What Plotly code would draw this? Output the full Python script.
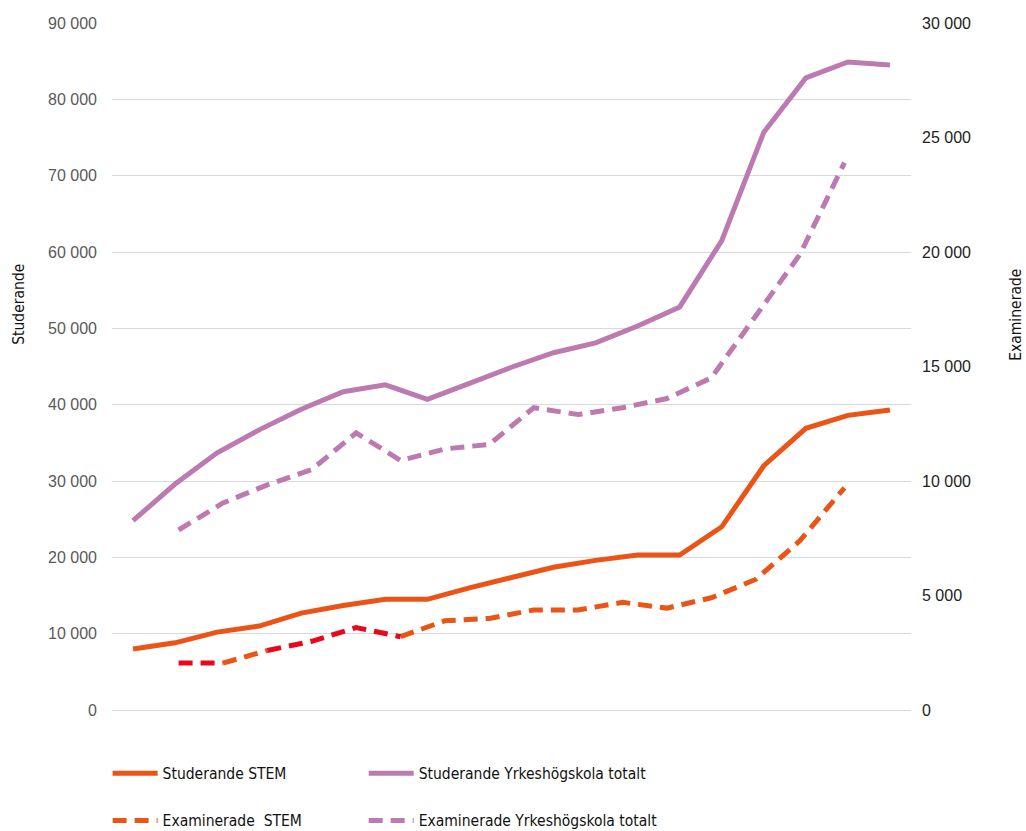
import plotly.graph_objects as go

# Category slots (no visible labels on the x axes)
stud_pos = list(range(19))          # Studerande: 19 slots on the primary x axis
exam_pos = list(range(1, 17))       # Examinerade: slots 1..16 of an 18-slot secondary x axis

# Studerande (left axis)
stud_stem = [8000, 8800, 10200, 11000, 12700, 13700, 14500, 14500, 16000, 17400,
             18700, 19600, 20300, 20300, 24000, 32000, 36900, 38600, 39300]
stud_yh = [24800, 29600, 33700, 36700, 39400, 41700, 42600, 40700, 42800, 44900,
           46800, 48100, 50300, 52800, 61500, 75700, 82800, 84900, 84500]

# Examinerade (right axis)
exam_stem = [2050, 2050, 2600, 3000, 3600, 3200, 3900, 4000, 4370, 4370,
             4700, 4450, 4900, 5700, 7400, 9700]
exam_yh = [7860, 9040, 9830, 10500, 12100, 10900, 11400, 11600, 13200, 12900,
           13200, 13600, 14500, 17200, 19900, 23900]

# Index spans of the Examinerade STEM line drawn in red vs orange
stem_red_spans = [(0, 1), (2, 5)]
stem_orange_spans = [(1, 2), (5, 15)]

ORANGE = "#eb5417"
RED = "#e8081c"
PURPLE = "#bc7ab1"
NARROW = "Liberation Sans Narrow, DejaVu Sans Condensed, Arial Narrow, sans-serif"
DASH = "14px,8px"


def spans_xy(xs, ys, spans):
    px, py = [], []
    for a, b in spans:
        if px:
            px.append(None)
            py.append(None)
        px.extend(xs[a:b + 1])
        py.extend(ys[a:b + 1])
    return px, py


fig = go.Figure()

fig.add_trace(go.Scatter(x=stud_pos, y=stud_stem, mode="lines", name="Studerande STEM",
                         line=dict(color=ORANGE, width=5), legend="legend",
                         legendgroup="a", xaxis="x", yaxis="y"))
ox, oy = spans_xy(exam_pos, exam_stem, stem_orange_spans)
fig.add_trace(go.Scatter(x=ox, y=oy, mode="lines", name="Examinerade  STEM",
                         line=dict(color=ORANGE, width=5, dash=DASH), legend="legend",
                         legendgroup="b", connectgaps=False, xaxis="x2", yaxis="y2"))
rx, ry = spans_xy(exam_pos, exam_stem, stem_red_spans)
fig.add_trace(go.Scatter(x=rx, y=ry, mode="lines", showlegend=False,
                         line=dict(color=RED, width=5, dash=DASH),
                         connectgaps=False, xaxis="x2", yaxis="y2"))

fig.add_trace(go.Scatter(x=stud_pos, y=stud_yh, mode="lines",
                         name="Studerande Yrkeshögskola totalt",
                         line=dict(color=PURPLE, width=5), legend="legend2",
                         legendgroup="c", xaxis="x", yaxis="y"))
fig.add_trace(go.Scatter(x=exam_pos, y=exam_yh, mode="lines",
                         name="Examinerade Yrkeshögskola totalt",
                         line=dict(color=PURPLE, width=5, dash=DASH), legend="legend2",
                         legendgroup="d", xaxis="x2", yaxis="y2"))

legend_common = dict(orientation="v", yanchor="top", xanchor="left",
                     font=dict(family=NARROW, size=15.5, color="#111111"),
                     itemwidth=45, tracegroupgap=24, bgcolor="rgba(0,0,0,0)")

fig.update_layout(
    width=1026, height=831,
    margin=dict(l=112, r=115, t=23, b=121, autoexpand=False),
    paper_bgcolor="white", plot_bgcolor="white",
    separators=", ",
    showlegend=True,
    legend=dict(x=-0.0055, y=-0.068, **legend_common),
    legend2=dict(x=0.315, y=-0.068, **legend_common),
    xaxis=dict(range=[-0.5, 18.5], visible=False, showgrid=False, zeroline=False),
    xaxis2=dict(range=[-0.5, 17.5], overlaying="x", visible=False,
                showgrid=False, zeroline=False),
    yaxis=dict(range=[0, 90000], dtick=10000, tickformat=",d",
               showgrid=True, gridcolor="#d9d9d9", gridwidth=1,
               zeroline=True, zerolinecolor="#d9d9d9", zerolinewidth=1,
               showline=False, ticks="", ticklabelstandoff=14,
               tickfont=dict(family="Liberation Sans, Arial, sans-serif", size=16,
                             color="#595959")),
    yaxis2=dict(range=[0, 30000], dtick=5000, tickformat=",d", overlaying="y",
                side="right", showgrid=False, zeroline=False, showline=False,
                ticks="", ticklabelstandoff=10,
                tickfont=dict(family="Liberation Sans, Arial, sans-serif", size=16,
                              color="#222222")),
    annotations=[
        dict(text="Studerande", xref="paper", yref="paper",
             x=-0.13, y=0.59, textangle=-90, showarrow=False,
             font=dict(family=NARROW, size=15.5, color="#111111")),
        dict(text="Examinerade", xref="paper", yref="paper",
             x=1.145, y=0.575, textangle=-90, showarrow=False,
             font=dict(family=NARROW, size=15.5, color="#111111")),
    ],
)

fig.write_html("out.html")
